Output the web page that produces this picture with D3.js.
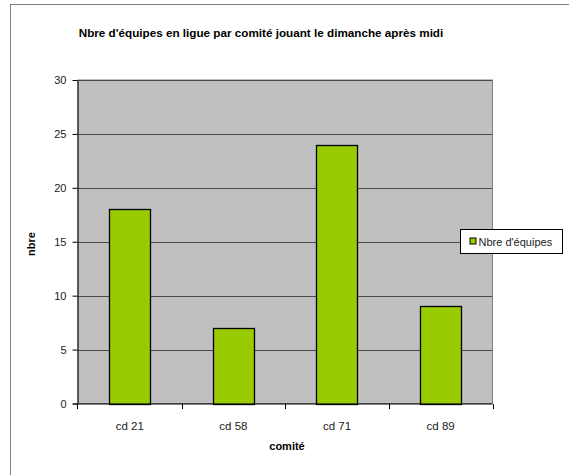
<!DOCTYPE html>
<html>
<head>
<meta charset="utf-8">
<script src="https://cdn.jsdelivr.net/npm/d3@7"></script>
<style>
  body { margin: 0; background: #fff; }
  svg text { font-family: Arial, "Liberation Sans", sans-serif; }
</style>
</head>
<body>
<div id="chart"></div>
<script>
const categories = ["cd 21", "cd 58", "cd 71", "cd 89"];
const equipes = [18, 7, 24, 9];
const yTicks = [0, 5, 10, 15, 20, 25, 30];
const seriesName = "Nbre d'équipes";

const width = 569, height = 475;
const plot = { left: 78, top: 80, right: 492.5, bottom: 403.5 };

const svg = d3.select("#chart").append("svg")
    .attr("width", width)
    .attr("height", height);

// outer frame of the chart object (runs off right/bottom)
svg.append("rect")
    .attr("x", 10.5).attr("y", 4.5)
    .attr("width", 600).attr("height", 520)
    .attr("fill", "#fff")
    .attr("stroke", "#808080");

var x = d3.scaleBand()
    .domain(categories)
    .range([plot.left, plot.right])
    .paddingInner(0.6)
    .paddingOuter(0.3);

var y = d3.scaleLinear()
    .domain([0, 30])
    .range([plot.bottom, plot.top]);

// grey plot area
svg.append("rect")
    .attr("x", plot.left).attr("y", plot.top)
    .attr("width", plot.right - plot.left)
    .attr("height", plot.bottom - plot.top)
    .attr("fill", "#c0c0c0")
    .attr("stroke", "#808080");

// gridlines
svg.append("g").selectAll("line")
    .data(yTicks.filter(d => d > 0))
    .enter().append("line")
    .attr("x1", plot.left).attr("x2", plot.right)
    .attr("y1", d => Math.round(y(d)) + 0.5)
    .attr("y2", d => Math.round(y(d)) + 0.5)
    .attr("stroke", "#4a4a4a");

// bars
svg.append("g").selectAll("rect")
    .data(equipes)
    .enter().append("rect")
    .attr("x", (d, i) => Math.round(x(categories[i])) + 0.5)
    .attr("y", d => Math.round(y(d)) + 0.5)
    .attr("width", Math.round(x.bandwidth()))
    .attr("height", d => Math.round(y(0)) - Math.round(y(d)))
    .attr("fill", "#99cc00")
    .attr("stroke", "#000")
    .attr("stroke-width", 1.3);

// y axis
var yAxis = svg.append("g")
    .attr("transform", "translate(" + (plot.left - 0.5) + ",0)")
    .call(d3.axisLeft(y).tickValues(yTicks).tickSize(5).tickPadding(6).tickSizeOuter(0));

// x axis (ticks on band boundaries)
var bounds = categories.map(c => x(c) - x.step() * x.paddingInner() / 2);
bounds.push(plot.right);
var xAxis = svg.append("g")
    .attr("transform", "translate(0," + (plot.bottom + 0.5) + ")");
xAxis.append("line")
    .attr("x1", plot.left - 5).attr("x2", plot.right)
    .attr("stroke", "#000");
xAxis.selectAll(".tk")
    .data(bounds)
    .enter().append("line")
    .attr("class", "tk")
    .attr("x1", (d, i) => i === 0 ? plot.left - 0.5 : Math.round(d) + 0.5)
    .attr("x2", (d, i) => i === 0 ? plot.left - 0.5 : Math.round(d) + 0.5)
    .attr("y1", 0).attr("y2", 5)
    .attr("stroke", "#000");
xAxis.selectAll(".lbl")
    .data(categories)
    .enter().append("text")
    .attr("class", "lbl")
    .attr("x", d => x(d) + x.bandwidth() / 2)
    .attr("y", 26)
    .attr("text-anchor", "middle")
    .attr("font-size", 11.5)
    .attr("fill", "#222")
    .text(d => d);

[yAxis].forEach(function(g) {
  g.select(".domain").attr("stroke", "#000");
  g.selectAll(".tick line").attr("stroke", "#000");
  g.selectAll(".tick text").attr("font-size", 11).attr("fill", "#222")
    .attr("font-family", "Arial, 'Liberation Sans', sans-serif");
});

// titles
svg.append("text")
    .attr("x", 261).attr("y", 37)
    .attr("text-anchor", "middle")
    .attr("font-size", 11.7).attr("font-weight", "bold")
    .text("Nbre d'équipes en ligue par comité jouant le dimanche après midi");

svg.append("text")
    .attr("x", 287).attr("y", 450)
    .attr("text-anchor", "middle")
    .attr("font-size", 11).attr("font-weight", "bold")
    .text("comité");

svg.append("text")
    .attr("transform", "translate(35,244) rotate(-90)")
    .attr("text-anchor", "middle")
    .attr("font-size", 11).attr("font-weight", "bold")
    .text("nbre");

// legend
var legend = svg.append("g").attr("transform", "translate(460.5,229.5)");
legend.append("rect")
    .attr("width", 102).attr("height", 24)
    .attr("fill", "#fff").attr("stroke", "#000");
legend.append("rect")
    .attr("x", 9.5).attr("y", 8.5)
    .attr("width", 6).attr("height", 6)
    .attr("fill", "#99cc00").attr("stroke", "#000");
legend.append("text")
    .attr("x", 18).attr("y", 16)
    .attr("font-size", 11).attr("fill", "#222")
    .text(seriesName);
</script>
</body>
</html>
